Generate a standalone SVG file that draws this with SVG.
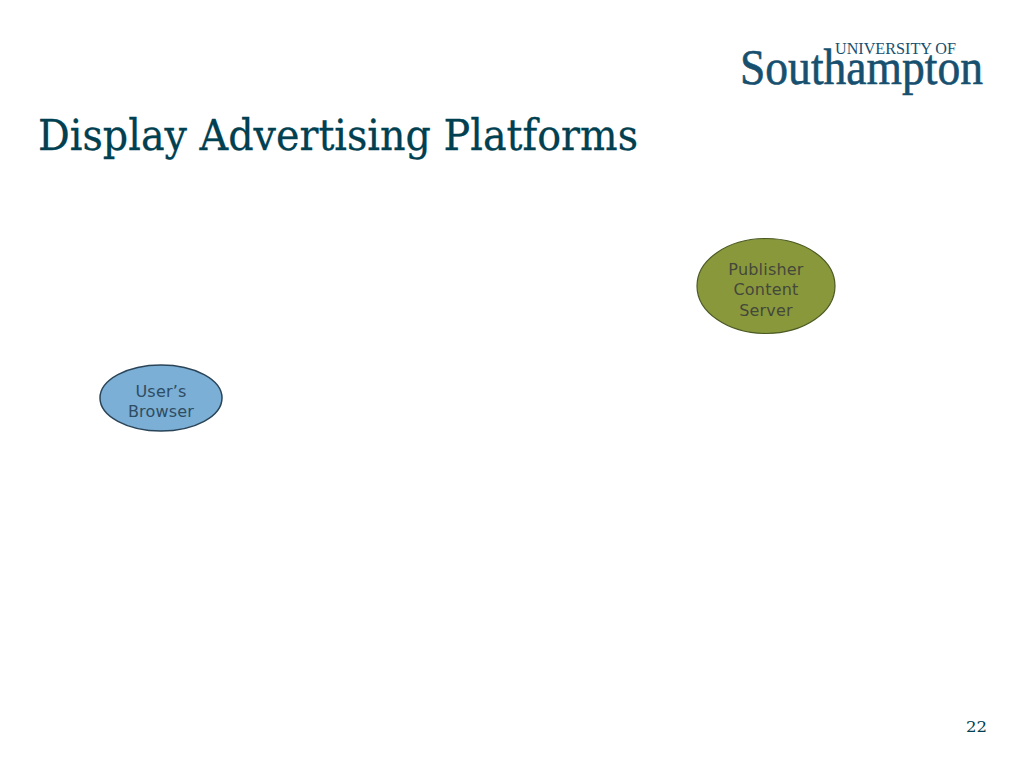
<svg xmlns="http://www.w3.org/2000/svg" width="1024" height="768" viewBox="0 0 1024 768">
<style>
.n{font-family:"DejaVu Sans","Noto Sans",sans-serif;font-size:16px;text-anchor:middle;letter-spacing:.2px}
.s{font-family:"DejaVu Serif","Liberation Serif",serif;fill:#004050}
.l{font-family:"Liberation Serif","DejaVu Serif",serif;fill:#17506f}
</style>
<rect width="1024" height="768" fill="#ffffff"/>
<g id="logo">
<text class="l" x="835" y="54" font-size="17" textLength="121" lengthAdjust="spacingAndGlyphs">UNIVERSITY OF</text>
<text class="l" x="740" y="84" font-size="50" stroke="#17506f" stroke-width=".6" textLength="243" lengthAdjust="spacingAndGlyphs">Southampton</text>
</g>
<text id="title" class="s" x="38" y="150" font-size="43" stroke="#004050" stroke-width=".3" textLength="600" lengthAdjust="spacingAndGlyphs">Display Advertising Platforms</text>
<g id="connectors"></g>
<g id="publisher">
<ellipse cx="766" cy="286" rx="69" ry="47.5" fill="#8a983c" stroke="#4a5a22" stroke-width="1.2"/>
<text class="n" x="766" y="274.500" fill="#44483a">Publisher</text>
<text class="n" x="766" y="295" fill="#44483a">Content</text>
<text class="n" x="766" y="315.500" fill="#44483a">Server</text>
</g>
<g id="browser">
<ellipse cx="161" cy="398" rx="61" ry="33" fill="#7bafd6" stroke="#2a4458" stroke-width="1.5"/>
<text class="n" x="161" y="396.500" fill="#2e4c62">User’s</text>
<text class="n" x="161" y="417" fill="#2e4c62">Browser</text>
</g>
<text id="page" class="s" x="966" y="732" font-size="15" textLength="21" lengthAdjust="spacingAndGlyphs">22</text>
</svg>
